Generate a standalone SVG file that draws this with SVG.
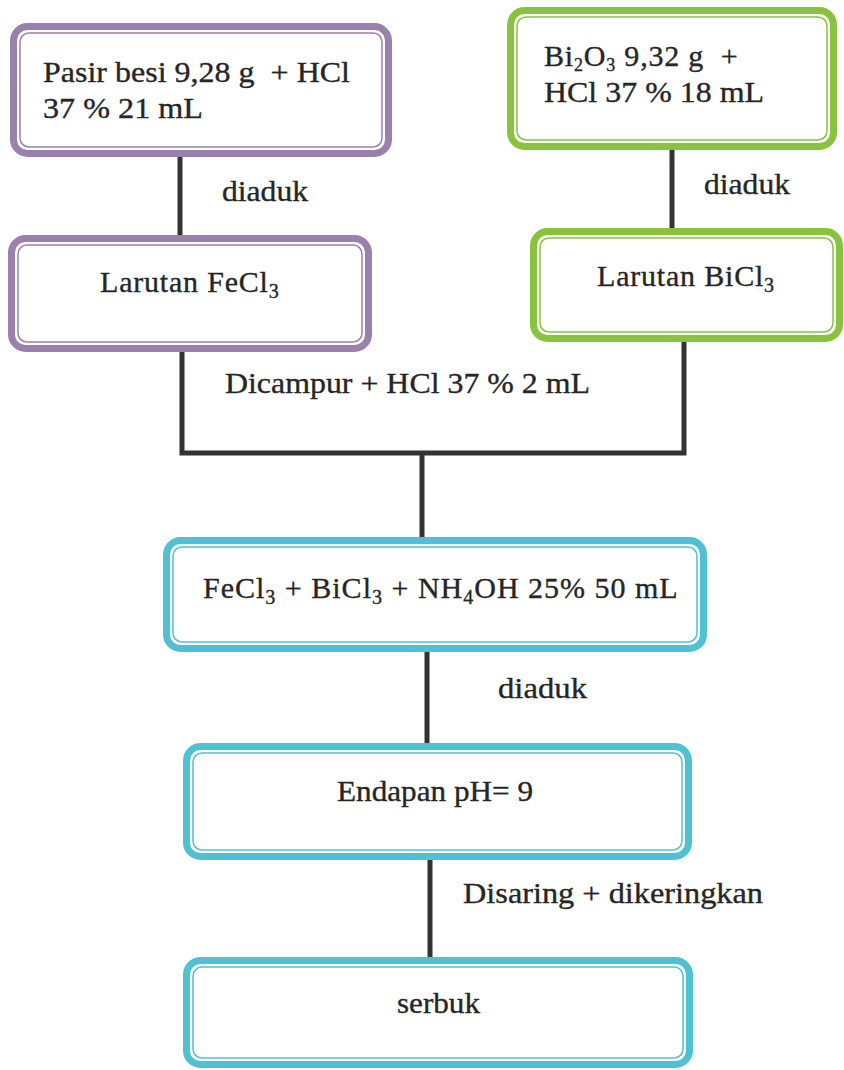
<svg xmlns="http://www.w3.org/2000/svg" width="844" height="1070" viewBox="0 0 844 1070">
<style>
.t{font-family:"Liberation Serif","Times New Roman",serif;font-size:30px;fill:#262626;stroke:#262626;stroke-width:0.35}
.s{font-size:20px}
.s2{font-size:18px}
.o{fill:#fff;stroke-width:7}
.i{fill:none;stroke-width:1.5}
.p .o,.p .i{stroke:#9a80ad}
.g .o,.g .i{stroke:#88c23f}
.c .o,.c .i{stroke:#4fc1d3}
.ln{fill:none;stroke:#333;stroke-width:5}
</style>
<rect width="844" height="1070" fill="#fff"/>
<g id="connectors">
<path class="ln" d="M180 155V237"/>
<path class="ln" d="M672 148V230"/>
<path class="ln" d="M182 350V453H684V340"/>
<path class="ln" d="M422 452V539"/>
<path class="ln" d="M427 650V745"/>
<path class="ln" d="M430 858V959"/>
<text class="t" x="222" y="201" textLength="86" lengthAdjust="spacingAndGlyphs">diaduk</text>
<text class="t" x="704" y="194" textLength="86" lengthAdjust="spacingAndGlyphs">diaduk</text>
<text class="t" x="225" y="393" textLength="365" lengthAdjust="spacingAndGlyphs">Dicampur + HCl 37 % 2 mL</text>
<text class="t" x="498" y="698" textLength="89" lengthAdjust="spacingAndGlyphs">diaduk</text>
<text class="t" x="463" y="903" textLength="300" lengthAdjust="spacingAndGlyphs">Disaring + dikeringkan</text>
</g>
<g id="n1" class="p">
<rect class="o" x="13.5" y="26.5" width="375" height="127" rx="14"/>
<rect class="i" x="20" y="33" width="362" height="114" rx="9"/>
<text class="t" x="43" y="82" textLength="307" lengthAdjust="spacingAndGlyphs" xml:space="preserve">Pasir besi 9,28 g  + HCl</text>
<text class="t" x="43" y="118" textLength="160" lengthAdjust="spacingAndGlyphs">37 % 21 mL</text>
</g>
<g id="n2" class="g">
<rect class="o" x="510.5" y="10.5" width="323" height="136" rx="14"/>
<rect class="i" x="517" y="17" width="310" height="123" rx="9"/>
<text class="t" x="544" y="66" letter-spacing="0.8" xml:space="preserve">Bi<tspan class="s2" dy="5">2</tspan><tspan dy="-5">O</tspan><tspan class="s2" dy="5">3</tspan><tspan dy="-5"> 9,32 g  +</tspan></text>
<text class="t" x="544" y="102" textLength="220" lengthAdjust="spacingAndGlyphs">HCl 37 % 18 mL</text>
</g>
<g id="n3" class="p">
<rect class="o" x="11.5" y="238.5" width="357" height="110" rx="14"/>
<rect class="i" x="18" y="245" width="344" height="97" rx="9"/>
<text class="t" x="100" y="292" letter-spacing="0.8">Larutan FeCl<tspan class="s" dy="6">3</tspan></text>
</g>
<g id="n4" class="g">
<rect class="o" x="533.5" y="231.5" width="306" height="107" rx="14"/>
<rect class="i" x="540" y="238" width="293" height="94" rx="9"/>
<text class="t" x="597" y="286" letter-spacing="0.8">Larutan BiCl<tspan class="s" dy="6">3</tspan></text>
</g>
<g id="n5" class="c">
<rect class="o" x="166.5" y="540.5" width="537" height="108" rx="14"/>
<rect class="i" x="173" y="547" width="524" height="95" rx="9"/>
<text class="t" x="203" y="598" letter-spacing="1">FeCl<tspan class="s" dy="6">3</tspan><tspan dy="-6"> + BiCl</tspan><tspan class="s" dy="6">3</tspan><tspan dy="-6"> + NH</tspan><tspan class="s" dy="6">4</tspan><tspan dy="-6">OH 25% 50 mL</tspan></text>
</g>
<g id="n6" class="c">
<rect class="o" x="186.5" y="746.5" width="502" height="110" rx="14"/>
<rect class="i" x="193" y="753" width="489" height="97" rx="9"/>
<text class="t" x="337" y="801" textLength="196" lengthAdjust="spacingAndGlyphs">Endapan pH= 9</text>
</g>
<g id="n7" class="c">
<rect class="o" x="186.5" y="960.5" width="503" height="104" rx="14"/>
<rect class="i" x="193" y="967" width="490" height="91" rx="9"/>
<text class="t" x="397" y="1013" textLength="83" lengthAdjust="spacingAndGlyphs">serbuk</text>
</g>
</svg>
